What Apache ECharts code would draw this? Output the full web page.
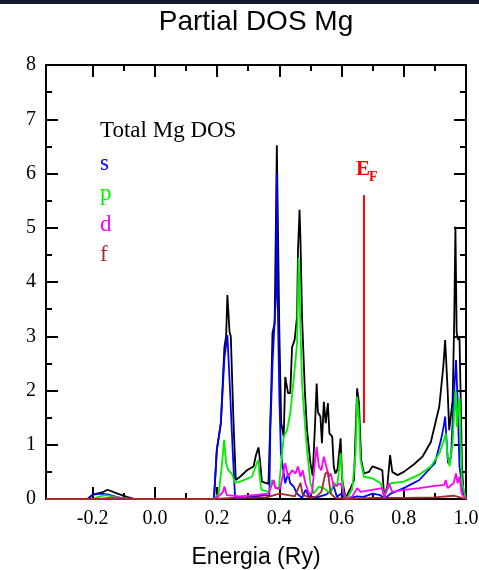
<!DOCTYPE html>
<html>
<head>
<meta charset="utf-8">
<script src="https://cdn.jsdelivr.net/npm/echarts@6/dist/echarts.min.js"></script>
<style>
html,body{margin:0;padding:0;background:#fff;}
#c{width:479px;height:570px;}
</style>
</head>
<body>
<div id="c"></div>
<script>
// ---- data (energy in Ry, DOS values) ----
const totalDos = [[-0.35,0],[-0.216,0],[-0.2,0.08],[-0.17,0.12],[-0.152,0.17],[-0.12,0.1],[-0.09,0.04],[-0.065,0],[0.19,0],[0.199,0.9],[0.212,1.4],[0.2235,2.8],[0.229,3.0],[0.233,3.76],[0.24,3.08],[0.244,3.0],[0.2525,1.45],[0.26,0.35],[0.274,0.41],[0.296,0.53],[0.317,0.6],[0.325,0.81],[0.333,0.95],[0.338,0.7],[0.344,0.32],[0.365,0.28],[0.37,0.3],[0.374,2.0],[0.378,3.06],[0.385,3.24],[0.392,6.52],[0.4,3.1],[0.406,1.4],[0.414,1.15],[0.419,2.25],[0.428,1.95],[0.435,1.95],[0.441,2.8],[0.449,2.93],[0.457,3.36],[0.46,4.59],[0.465,5.33],[0.468,4.77],[0.473,3.36],[0.482,2.0],[0.489,1.27],[0.5,0.66],[0.507,0.43],[0.514,1.27],[0.52,2.13],[0.524,1.6],[0.532,1.52],[0.537,1.03],[0.543,1.79],[0.549,1.4],[0.556,1.77],[0.561,1.21],[0.57,1.15],[0.575,0.6],[0.58,0.47],[0.587,0.55],[0.597,1.12],[0.602,0.36],[0.613,0.01],[0.629,0.2],[0.64,0.35],[0.65,2.04],[0.656,1.77],[0.663,0.72],[0.672,0.47],[0.688,0.5],[0.699,0.6],[0.715,0.57],[0.731,0.53],[0.737,0.04],[0.747,0.23],[0.756,0.81],[0.763,0.5],[0.78,0.44],[0.8,0.5],[0.833,0.64],[0.86,0.78],[0.887,1.05],[0.914,1.7],[0.927,2.44],[0.933,2.93],[0.941,2.0],[0.946,1.27],[0.957,1.82],[0.962,3.24],[0.966,5.02],[0.97,3.06],[0.975,2.93],[0.979,3.0],[0.982,2.13],[0.987,0.6],[0.992,0.1],[1.0,0]];
const sDos = [[-0.35,0],[-0.216,0],[-0.2,0.08],[-0.17,0.1],[-0.15,0.08],[-0.13,0.05],[-0.1,0],[0.19,0],[0.199,0.9],[0.212,1.4],[0.2235,2.6],[0.233,3.02],[0.24,2.2],[0.25,0.9],[0.258,0],[0.3,0.03],[0.355,0.07],[0.368,0.05],[0.371,1.27],[0.378,2.5],[0.385,3.3],[0.39,3.85],[0.392,6.0],[0.395,3.6],[0.4,1.89],[0.405,0.85],[0.414,0.47],[0.419,0.29],[0.428,0.47],[0.435,0.29],[0.446,0.23],[0.457,0.1],[0.473,0.02],[0.484,0.17],[0.495,0.05],[0.52,0.03],[0.55,0.08],[0.565,0.15],[0.575,0.23],[0.585,0.04],[0.6,0.1],[0.613,0],[0.65,0.05],[0.67,0.04],[0.7,0.1],[0.725,0.07],[0.737,0],[0.758,0.1],[0.8,0.2],[0.85,0.35],[0.9,0.66],[0.92,1.1],[0.928,1.33],[0.933,1.52],[0.942,0.66],[0.952,0.78],[0.96,1.82],[0.968,2.56],[0.973,1.82],[0.979,0.6],[0.99,0.17],[1.0,0]];
const pDos = [[-0.35,0],[-0.2,0],[-0.18,0.04],[-0.16,0.07],[-0.13,0.04],[-0.09,0],[0.19,0],[0.205,0.1],[0.215,0.6],[0.2225,1.09],[0.229,0.66],[0.236,0.53],[0.247,0.47],[0.258,0.3],[0.274,0.32],[0.312,0.41],[0.327,0.65],[0.333,0.72],[0.336,0.45],[0.342,0.17],[0.365,0.13],[0.371,0.2],[0.377,0.35],[0.387,0.23],[0.398,0.17],[0.414,1.15],[0.425,1.27],[0.435,1.58],[0.446,2.19],[0.457,2.87],[0.462,4.45],[0.468,3.1],[0.473,2.13],[0.482,1.4],[0.489,0.9],[0.5,0.29],[0.511,0.1],[0.527,0.23],[0.543,0.2],[0.565,0.1],[0.575,0.3],[0.586,0.23],[0.597,0.84],[0.606,0.1],[0.617,0.01],[0.634,0.17],[0.645,0.84],[0.65,1.89],[0.656,1.46],[0.661,0.72],[0.672,0.41],[0.699,0.38],[0.726,0.29],[0.737,0.07],[0.753,0.23],[0.758,0.29],[0.8,0.32],[0.85,0.45],[0.887,0.6],[0.915,0.85],[0.93,1.1],[0.935,1.21],[0.94,0.84],[0.947,0.6],[0.957,1.03],[0.966,2.01],[0.971,1.33],[0.976,1.76],[0.98,1.85],[0.982,1.21],[0.987,0.3],[1.0,0]];
const dDos = [[-0.35,0],[-0.18,0],[-0.15,0.02],[-0.12,0.03],[-0.07,0],[0.19,0],[0.204,0.05],[0.218,0.12],[0.2235,0.23],[0.231,0.07],[0.274,0.05],[0.333,0.08],[0.365,0.1],[0.382,0.35],[0.387,0.2],[0.403,0.2],[0.419,0.66],[0.428,0.41],[0.441,0.53],[0.452,0.47],[0.46,0.6],[0.468,0.41],[0.475,0.53],[0.484,0.29],[0.495,0.1],[0.505,0.1],[0.514,0.66],[0.52,0.96],[0.527,0.6],[0.535,0.53],[0.543,0.78],[0.551,0.6],[0.559,0.41],[0.565,0.47],[0.575,0.23],[0.597,0.29],[0.613,0],[0.635,0.05],[0.65,0.2],[0.661,0.13],[0.73,0.2],[0.737,0.02],[0.752,0.29],[0.763,0.13],[0.8,0.17],[0.85,0.2],[0.9,0.24],[0.93,0.26],[0.935,0.35],[0.941,0.2],[0.96,0.29],[0.968,0.47],[0.973,0.29],[0.979,0.41],[0.986,0.1],[1.0,0]];
const fDos = [[-0.35,0],[0.19,0],[0.25,0.02],[0.36,0.03],[0.4,0.1],[0.42,0.08],[0.45,0.05],[0.468,0.3],[0.475,0.08],[0.5,0.02],[0.52,0.05],[0.535,0.13],[0.548,0.47],[0.556,0.5],[0.565,0.1],[0.58,0.02],[0.62,0],[0.7,0.02],[0.8,0.02],[0.9,0.03],[0.96,0.06],[0.975,0.04],[1.0,0]];
const efLine = [[0.672,1.4],[0.672,5.6]];
const xMajorTicks = [-0.2,0.0,0.2,0.4,0.6,0.8,1.0];
const xMinorTicks = [-0.1,0.1,0.3,0.5,0.7,0.9];
const legendLabels = ['Total Mg DOS','s','p','d','f'];
const seriesColors = ['#000000','#0000ff','#00ee00','#ff00ff','#a52a2a'];

const chart = echarts.init(document.getElementById('c'), null, {renderer:'canvas'});
const serif = 'Liberation Serif, Times New Roman, serif';
const sans = 'Liberation Sans, Arial, sans-serif';
const blk = '#000';

function xAx(pos, ticks, len, showLine, labels, extra) {
  return Object.assign({
    type:'value', position:pos, min:-0.35, max:1.0,
    axisLine:{show:showLine, onZero:false, lineStyle:{color:blk,width:2}},
    axisTick:{show:true, inside:true, length:len, customValues:ticks, lineStyle:{color:blk,width:2}},
    axisLabel:{show:labels, customValues:ticks, formatter:v=>v.toFixed(1), fontFamily:serif, fontSize:20, color:blk, margin:10},
    splitLine:{show:false}
  }, extra||{});
}
function yAx(pos, labels) {
  return {
    type:'value', position:pos, min:0, max:8, interval:1,
    axisLine:{show:true, onZero:false, lineStyle:{color:blk,width:2}},
    axisTick:{show:true, inside:true, length:12, lineStyle:{color:blk,width:2}},
    minorTick:{show:true, splitNumber:2, length:6, lineStyle:{color:blk,width:2}},
    axisLabel:{show:labels, fontFamily:serif, fontSize:20, color:blk, margin:10},
    splitLine:{show:false}
  };
}

const dosSets = [totalDos, sDos, pDos, dDos, fDos];
const series = dosSets.map((d,i)=>({
  type:'line', data:d, xAxisIndex:0, yAxisIndex:0, showSymbol:false, symbol:'none',
  lineStyle:{color:seriesColors[i], width:1.8}, itemStyle:{color:seriesColors[i]}, z:3+i, silent:true
}));
series.push({type:'line', data:efLine, xAxisIndex:0, yAxisIndex:0, symbol:'none', lineStyle:{color:'#ff0000',width:2}, z:9, silent:true});

const legendY = [131, 164, 194, 225, 255];
const graphics = [
  {type:'rect', left:0, top:0, shape:{width:479,height:4}, style:{fill:'#111a2c'}, z:-1},
  {type:'text', x:256, y:22, style:{text:'Partial DOS Mg', font:'28px '+sans, fill:blk, align:'center', verticalAlign:'middle'}},
  {type:'text', x:356, y:170, style:{text:'E', font:'bold 21px '+serif, fill:'#ff0000', align:'left', verticalAlign:'middle'}},
  {type:'text', x:369, y:177, style:{text:'F', font:'bold 14px '+serif, fill:'#ff0000', align:'left', verticalAlign:'middle'}}
];
legendLabels.forEach((t,i)=>{
  graphics.push({type:'text', x:100, y:legendY[i], style:{text:t, font:'23px '+serif, fill:seriesColors[i], align:'left', verticalAlign:'middle'}});
});

chart.setOption({
  animation:false,
  backgroundColor:'#fff',
  grid:{left:46, right:13, top:65, bottom:71, containLabel:false, outerBoundsMode:'none'},
  xAxis:[
    xAx('bottom', xMajorTicks, 12, true, true, {name:'Energia (Ry)', nameLocation:'middle', nameGap:47, nameTextStyle:{fontFamily:sans, fontSize:23, color:blk}}),
    xAx('bottom', xMinorTicks, 6, false, false),
    xAx('top', xMajorTicks, 12, true, false),
    xAx('top', xMinorTicks, 6, false, false)
  ],
  yAxis:[ yAx('left', true), yAx('right', false) ],
  series: series,
  graphic: graphics
});
</script>
</body>
</html>
